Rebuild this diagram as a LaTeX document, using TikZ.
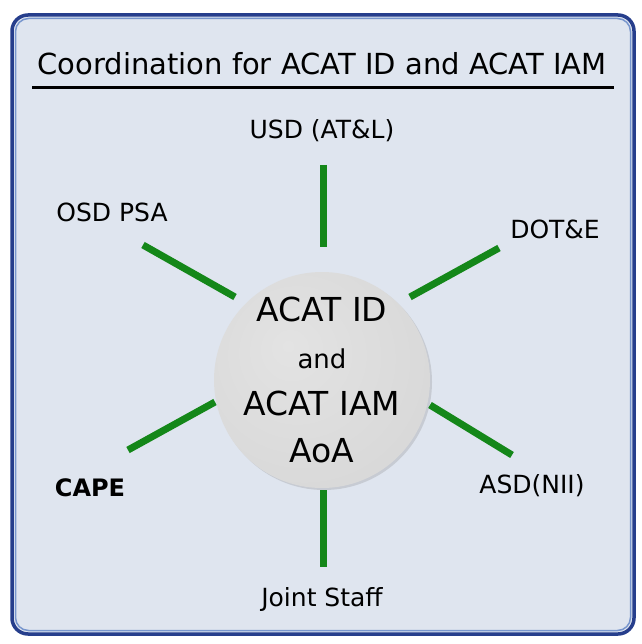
\documentclass[tikz,border=0pt]{standalone}
\usepackage{fontspec}
\setmainfont{DejaVu Sans}
\usetikzlibrary{shadows}

\definecolor{panelfill}{RGB}{223,229,239}
\definecolor{panelrim}{RGB}{38,62,140}
\definecolor{panelglow}{RGB}{120,150,205}
\definecolor{spokegreen}{RGB}{20,135,25}
\pgfdeclareradialshading{hubshade}{\pgfpoint{-8bp}{8bp}}{color(0bp)=(gray!22); color(30bp)=(gray!30); color(44bp)=(gray!42); color(58bp)=(gray!72)}

\begin{document}
\begin{tikzpicture}[x=1pt,y=-1pt,
	spoke/.style={spokegreen,line width=7pt},
	lbl/.style={anchor=base,font=\fontsize{25}{30}\selectfont},
	hub/.style={circle,minimum size=216pt,inner sep=-20pt,align=center,shade,shading=hubshade,
		font=\fontsize{33}{47}\selectfont,
		drop shadow={opacity=.25,shadow xshift=2pt,shadow yshift=-2pt}}]
			\useasboundingbox (0,0) rectangle (641,644);
			\fill[white] (0,0) rectangle (641,644);
			% panel
			\draw[panelrim,line width=3.5pt,fill=panelfill,rounded corners=16pt] (12,15) rectangle (634,634);
			\draw[panelglow,line width=1.5pt,rounded corners=13pt] (15.5,18.5) rectangle (630.5,630.5);
			% title
			\node[anchor=base,font=\fontsize{29}{34}\selectfont] (title) at (322,75) {Coordination for ACAT ID and ACAT IAM};
			\draw[line width=3pt] (32,88) -- (614,88);
			% spokes
			\coordinate (t1) at (323,165); \coordinate (t2) at (323,247);
			\coordinate (o1) at (143,245); \coordinate (o2) at (235,297);
			\coordinate (d1) at (499,248); \coordinate (d2) at (410,297);
			\coordinate (c1) at (128,450); \coordinate (c2) at (215,402);
			\coordinate (a1) at (512,455); \coordinate (a2) at (430,405);
			\coordinate (b1) at (323,490); \coordinate (b2) at (323,567);
			\foreach \from/\to in {t1/t2,o1/o2,d1/d2,c1/c2,a1/a2,b1/b2} {\draw[spoke] (\from) -- (\to);};
			% hub
			\node[hub] (hub) at (322,380) {ACAT ID\\{\fontsize{26}{47}\selectfont and}\\ACAT IAM\\AoA};
			% labels
			\foreach \name/\x/\y/\txt in {usd/322/139/{USD (AT\&L)}, osd/112/222/{OSD PSA}, dote/555/238/{DOT\&E}, asd/532/493/{ASD(NII)}, joint/322/606/{Joint Staff}} {\node[lbl] (\name) at (\x,\y) {\txt};};
			\node[lbl,font=\fontsize{24}{30}\selectfont\bfseries] (cape) at (90,496) {CAPE};
		\end{tikzpicture}
\end{document}
